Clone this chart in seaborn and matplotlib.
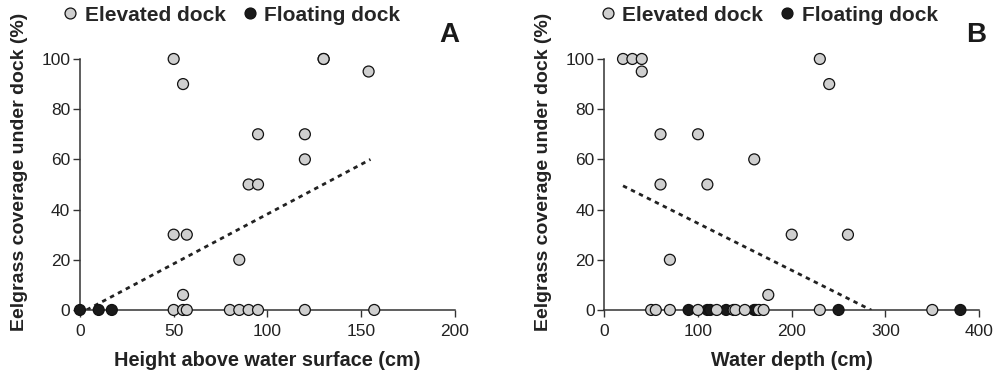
import matplotlib
matplotlib.use("Agg")
import matplotlib.pyplot as plt
import seaborn as sns
import pandas as pd
import numpy as np

# panel A: height above water surface (cm) vs eelgrass coverage (%)
a_elev_x = [50, 55, 130, 130, 154, 95, 120, 120, 90, 95, 50, 57, 85, 55,
            50, 55, 57, 80, 85, 90, 95, 120, 157]
a_elev_y = [100, 90, 100, 100, 95, 70, 70, 60, 50, 50, 30, 30, 20, 6,
            0, 0, 0, 0, 0, 0, 0, 0, 0]
a_float_x = [0, 10, 17]
a_float_y = [0, 0, 0]

# panel B: water depth (cm) vs eelgrass coverage (%)
b_elev_x = [20, 30, 40, 40, 230, 240, 60, 100, 160, 60, 110, 200, 260, 70, 175,
            50, 55, 70, 100, 120, 138, 140, 150, 165, 170, 230, 350]
b_elev_y = [100, 100, 100, 95, 100, 90, 70, 70, 60, 50, 50, 30, 30, 20, 6,
            0, 0, 0, 0, 0, 0, 0, 0, 0, 0, 0, 0]
b_float_x = [90, 110, 113, 130, 160, 162, 250, 380]
b_float_y = [0, 0, 0, 0, 0, 0, 0, 0]

# fitted trend lines (intercept, slope, x range)
a_fit = (-1.4, 0.396, 3.5, 155)
b_fit = (53.2, -0.187, 20, 285)

labels = ["Elevated dock", "Floating dock"]
colors = {"Elevated dock": "#cfcfcf", "Floating dock": "#1a1a1a"}


def make_df(ex, ey, fx, fy):
    df1 = pd.DataFrame({"x": fx, "y": fy, "dock": labels[1]})
    df2 = pd.DataFrame({"x": ex, "y": ey, "dock": labels[0]})
    return pd.concat([df1, df2], ignore_index=True)


dfa = make_df(a_elev_x, a_elev_y, a_float_x, a_float_y)
dfb = make_df(b_elev_x, b_elev_y, b_float_x, b_float_y)

sns.set_style("ticks")
plt.rcParams["font.family"] = ["Liberation Sans", "DejaVu Sans"]
plt.rcParams["axes.edgecolor"] = "#333333"
plt.rcParams["xtick.color"] = "#333333"
plt.rcParams["ytick.color"] = "#333333"
plt.rcParams["xtick.labelcolor"] = "#222222"
plt.rcParams["ytick.labelcolor"] = "#222222"

fig = plt.figure(figsize=(9.97, 3.78), dpi=100)
axA = fig.add_axes([0.0802, 0.180, 0.376, 0.664])
axB = fig.add_axes([0.6061, 0.180, 0.376, 0.664])

panels = [(axA, dfa, a_fit, 200, [0, 50, 100, 150, 200],
           "Height above water surface (cm)", "A", 0.984, -13),
          (axB, dfb, b_fit, 400, [0, 100, 200, 300, 400],
           "Water depth (cm)", "B", 0.991, 0)]

for ax, df, fit, xmax, xt, xlab, letter, lx, legdx in panels:
    sns.scatterplot(data=df, x="x", y="y", hue="dock", hue_order=labels,
                    palette=colors, s=62, edgecolor="#111111", linewidth=0.9,
                    clip_on=False, zorder=3, ax=ax, legend=True)
    b0, b1, x0, x1 = fit
    xs = np.array([x0, x1])
    ax.plot(xs, b0 + b1 * xs, ls=(0, (1.6, 1.6)), lw=2.0, color="#222222",
            zorder=2)
    ax.set_xlim(0, xmax)
    ax.set_ylim(0, 100)
    ax.set_xticks(xt)
    ax.set_yticks([0, 20, 40, 60, 80, 100])
    sns.despine(ax=ax)
    for sp in ax.spines.values():
        sp.set_linewidth(1.1)
    ax.tick_params(axis="both", labelsize=12.5, length=5, width=1.0, pad=2)
    ax.tick_params(axis="x", pad=5)
    ax.set_xlabel(xlab, fontsize=14.3, fontweight="bold", color="#222222")
    ax.set_ylabel("Eelgrass coverage under dock (%)", fontsize=14,
                  fontweight="bold", color="#222222")
    ax.yaxis.set_label_coords(-0.139, 0.55)
    ax.xaxis.set_label_coords(0.5, -0.165)
    ax.text(lx, 1.096, letter, transform=ax.transAxes, fontsize=20,
            fontweight="bold", ha="center", va="center", color="#1a1a1a")
    h, l = ax.get_legend_handles_labels()
    ax.legend(h, l, loc="center left",
              bbox_to_anchor=(ax.get_position().x0 + (legdx - 9) / 997, 0.96),
              bbox_transform=fig.transFigure, ncol=2, frameon=False,
              handletextpad=0.1, columnspacing=0.55, borderpad=0,
              borderaxespad=0, handlelength=1.2,
              prop={"weight": "bold", "size": 15})

fig.savefig("out.png", dpi=100)
